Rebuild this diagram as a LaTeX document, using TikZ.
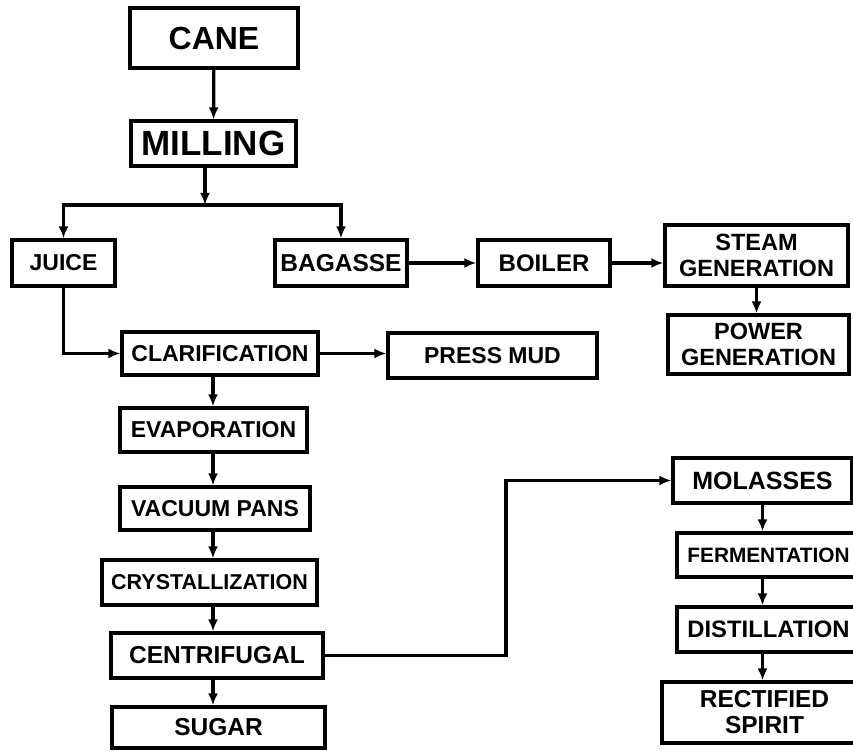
\documentclass[tikz,border=0pt]{standalone}
\usepackage{fontspec}
\setmainfont{Liberation Sans}
\usepackage{tikz}
\usetikzlibrary{arrows.meta}

\tikzset{
	box/.style={draw, line width=3.2pt, inner sep=0pt, align=center, font=\bfseries\fontsize{23}{26}\selectfont},
	fsize/.style={font=\bfseries\fontsize{#1}{26}\selectfont},
	wire/.style={line width=3.2pt, -{Latex[length=12pt, width=10pt]}},
}

\begin{document}
\begin{tikzpicture}[x=1pt, y=-1pt]
			\useasboundingbox (0,0) rectangle (853,751);
			\clip (0,0) rectangle (853,751);
			% Boxes, left and middle:
			\node[box, fsize=32, minimum width=168, minimum height=60](cane) at (214, 38){CANE};
			\node[box, fsize=35, minimum width=165, minimum height=45](milling) at (213.5, 143.5){MILLING};
			\node[box, minimum width=103, minimum height=46](juice) at (63.5, 263){JUICE};
			\node[box, fsize=24.5, minimum width=132, minimum height=46](bagasse) at (341, 263){BAGASSE};
			\node[box, fsize=24, minimum width=132, minimum height=46](boiler) at (544, 263){BOILER};
			\node[box, fsize=23.5, minimum width=183, minimum height=61](steam) at (756.5, 255.5){STEAM\\GENERATION};
			\node[box, fsize=23.5, minimum width=181, minimum height=59](power) at (758.5, 344.5){POWER\\GENERATION};
			\node[box, minimum width=196, minimum height=43](clar) at (220, 353.5){CLARIFICATION};
			\node[box, minimum width=209, minimum height=45](pressmud) at (492.5, 355.5){PRESS MUD};
			\node[box, minimum width=187, minimum height=44](evap) at (213.5, 430){EVAPORATION};
			\node[box, minimum width=190, minimum height=43](vacuum) at (215, 508.5){VACUUM PANS};
			\node[box, fsize=21.5, minimum width=215, minimum height=45](cryst) at (209.5, 582.5){CRYSTALLIZATION};
			\node[box, fsize=24.5, minimum width=212, minimum height=45](centri) at (217, 655.5){CENTRIFUGAL};
			\node[box, fsize=24.5, minimum width=213, minimum height=41](sugar) at (218.5, 727.5){SUGAR};
			% Boxes, right column:
			\node[box, fsize=25, minimum width=179, minimum height=45](molasses) at (762.5, 480.5){MOLASSES};
			\node[box, fsize=20.8, minimum width=183, minimum height=44](ferm) at (768.5, 555){FERMENTATION};
			\node[box, fsize=23.8, minimum width=183, minimum height=45](dist) at (768.5, 629.5){DISTILLATION};
			\node[box, fsize=24.5, minimum width=205, minimum height=61](spirit) at (764.5, 712.5){RECTIFIED\\SPIRIT};
			% Wires:
			\coordinate (split) at (205, 205);
			\coordinate (spine) at (213, 0);
			\coordinate (bend) at (506, 480.5);
			\draw[wire] (cane) -- (milling);
			\draw[wire] (milling.south -| split) -- (split);
			\draw[wire] (split) -| (juice.north);
			\draw[wire] (split) -| (bagasse.north);
			\draw[wire] (juice.south) |- (clar.west);
			\draw[wire] (bagasse.east) -- (boiler.west);
			\draw[wire] (boiler.east) -- (boiler.east -| steam.west);
			\draw[wire] (steam.south) -- (steam.south |- power.north);
			\draw[wire] (clar.east) -- (clar.east -| pressmud.west);
			\draw[wire] (clar.south -| spine) -- (evap.north -| spine);
			\draw[wire] (evap.south -| spine) -- (vacuum.north -| spine);
			\draw[wire] (vacuum.south -| spine) -- (cryst.north -| spine);
			\draw[wire] (cryst.south -| spine) -- (centri.north -| spine);
			\draw[wire] (centri.south -| spine) -- (sugar.north -| spine);
			\draw[wire] (centri.east) -| (bend) -- (molasses.west);
			\draw[wire] (molasses.south) -- (molasses.south |- ferm.north);
			\draw[wire] (ferm.south -| molasses.south) -- (molasses.south |- dist.north);
			\draw[wire] (dist.south -| molasses.south) -- (molasses.south |- spirit.north);
\end{tikzpicture}
\end{document}
